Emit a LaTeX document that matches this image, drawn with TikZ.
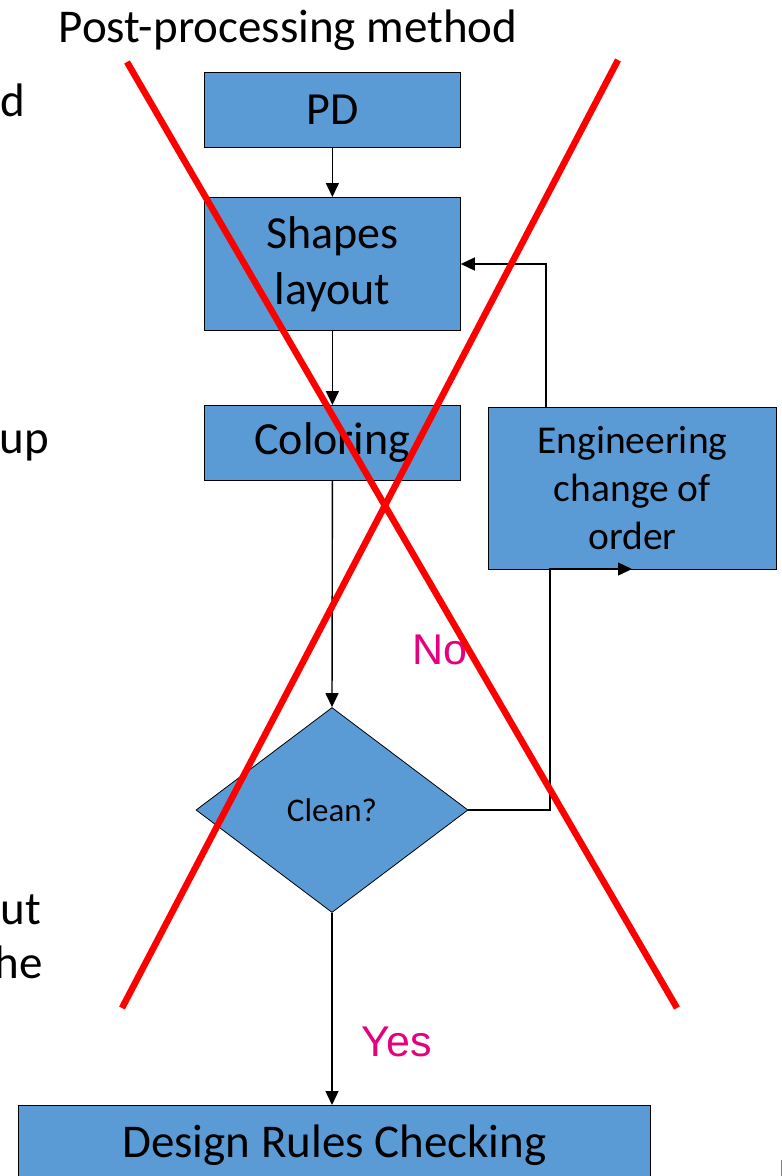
\documentclass[tikz,border=0pt]{standalone}
\usepackage{fontspec}
\setmainfont{Carlito}
\newfontfamily\arialf{Liberation Sans}
\usetikzlibrary{arrows.meta,shapes.geometric}
\definecolor{boxblue}{HTML}{5B9BD5}
\definecolor{pinklbl}{HTML}{E6007E}
\definecolor{xred}{HTML}{FF0000}
\tikzset{
  blk/.style={draw=black, line width=0.8pt, fill=boxblue, inner sep=0pt, anchor=north west, align=center},
  big/.style={font=\fontsize{46}{56}\selectfont},
  arr/.style={draw=black, line width=1.4pt, -{Triangle[width=13pt,length=14pt]}},
  lbl/.style={font=\arialf\fontsize{43}{48}\selectfont, text=pinklbl, inner sep=0pt},
  frag/.style={font=\fontsize{47}{56}\selectfont, inner sep=0pt, anchor=east},
  cross/.style={draw=xred, line width=6.5pt}
}
\begin{document}
\begin{tikzpicture}[x=1pt,y=-1pt]
\useasboundingbox (0,0) rectangle (782,1176);
\clip (0,0) rectangle (782,1176);
% title
\node[font=\fontsize{47}{56}\selectfont, inner sep=0pt] (title) at (288,30) {Post-processing method};
% left fragments
\node[frag] (f1) at (25,100) {rd};
\node[frag] (f2) at (49,446) {up};
\node[frag] (f3) at (41,910) {ut};
\node[frag] (f4) at (43,962) {he};
% boxes
\node[blk, minimum width=256pt, minimum height=75pt, big] (pd) at (204,72) {\raisebox{-2pt}{PD}};
\node[blk, minimum width=256pt, minimum height=133pt, big] (shapes) at (204,197) {\raisebox{-3pt}{\parbox{200pt}{\centering Shapes\\layout}}};
\node[blk, minimum width=256pt, minimum height=75pt, big] (color) at (204,405) {\raisebox{-3pt}{Coloring}};
\node[blk, minimum width=288pt, minimum height=162pt, font=\fontsize{39.5}{48}\selectfont] (eco) at (488,407) {Engineering\\change of\\order};
\node[draw=black, line width=0.8pt, fill=boxblue, diamond, aspect=1.327, minimum width=272pt, minimum height=205pt, inner sep=0pt, font=\fontsize{33}{40}\selectfont] (clean) at (332,810) {Clean?};
\node[blk, minimum width=632pt, minimum height=80pt, font=\fontsize{47}{56}\selectfont] (drc) at (18,1105) {\raisebox{6pt}{Design Rules Checking}};
% connectors
\draw[arr] (pd.south) -- (shapes.north);
\draw[arr] (shapes.south) -- (color.north);
\draw[arr] (color.south) -- (clean.north);
\coordinate (ecob) at (632,569);
\draw[arr] (clean.east) -- (550,810) -- (550,569) -- (ecob);
\coordinate (ecot) at (546,407);
\draw[arr] (ecot) -- (546,264) -- (shapes.east |- 0,264);
\draw[arr] (clean.south) -- (drc.north -| clean.south);
% labels
\node[lbl] (no) at (440,650) {No};
\node[lbl] (yes) at (397,1042) {Yes};
% cross
\coordinate (c1a) at (127,62);
\coordinate (c1b) at (677,1008);
\coordinate (c2a) at (618,60);
\coordinate (c2b) at (122,1008);
\draw[cross] (c1a) -- (c1b);
\draw[cross] (c2a) -- (c2b);
% bottom right mark
\coordinate (m1) at (781,1160);
\coordinate (m2) at (781,1176);
\draw[gray, line width=1pt] (m1) -- (m2);
\end{tikzpicture}
\end{document}
